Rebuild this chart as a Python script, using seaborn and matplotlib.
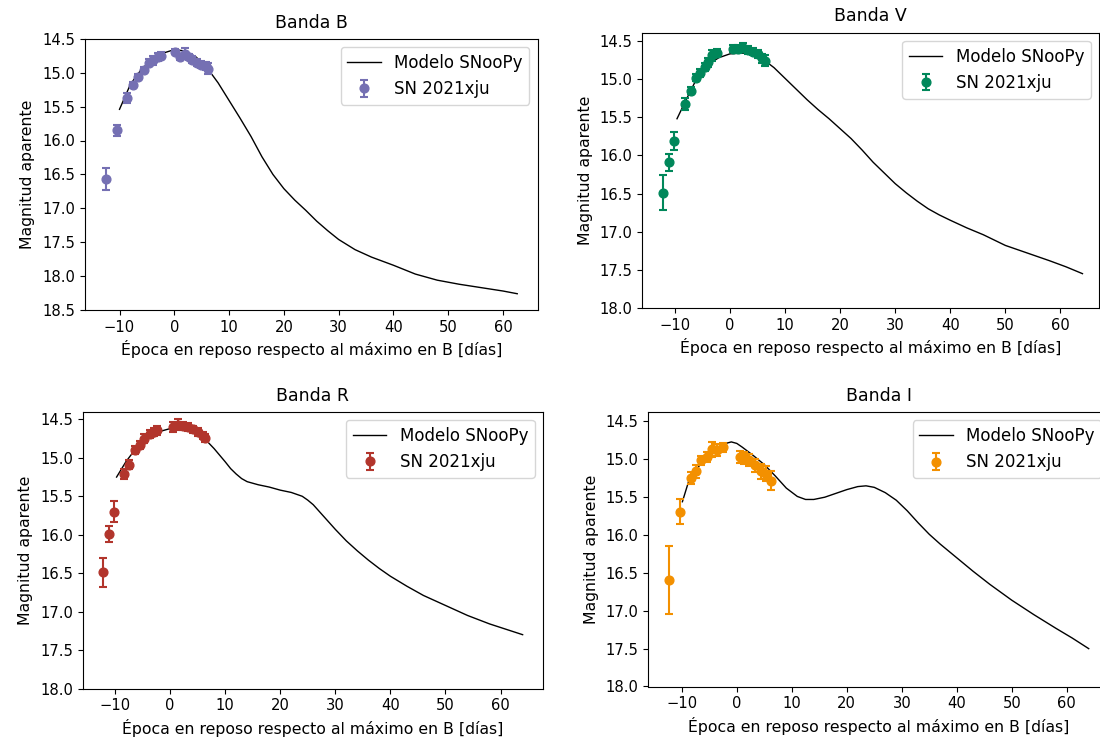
import matplotlib
matplotlib.use("Agg")
import matplotlib.pyplot as plt
import seaborn as sns
import numpy as np

# ---------------- data ----------------
# Banda B
b_days = [-12.4, -10.5, -8.6, -7.6, -6.6, -5.6, -4.7, -3.8, -2.9, -2.4, 0.2, 1.1, 1.9, 2.6, 3.3, 4.1, 4.9, 5.7, 6.1]
b_mags = [16.57, 15.85, 15.37, 15.18, 15.06, 14.96, 14.85, 14.82, 14.77, 14.75, 14.69, 14.77, 14.72, 14.77, 14.81, 14.85, 14.88, 14.90, 14.94]
b_errs = [0.16, 0.08, 0.07, 0.05, 0.04, 0.04, 0.05, 0.07, 0.06, 0.05, 0.04, 0.05, 0.08, 0.05, 0.05, 0.05, 0.05, 0.06, 0.08]
b_model_days = [-10, -8, -6, -4, -2, 0, 2, 4, 6, 8, 10, 12, 14, 16, 18, 20, 22, 24, 26, 28, 30, 33, 36, 40, 44, 48, 52, 56, 60, 62.6]
b_model_mags = [15.54, 15.17, 14.95, 14.80, 14.71, 14.66, 14.68, 14.77, 14.93, 15.15, 15.41, 15.67, 15.94, 16.24, 16.50, 16.71, 16.88, 17.03, 17.19, 17.33, 17.46, 17.61, 17.72, 17.84, 17.97, 18.06, 18.12, 18.17, 18.22, 18.26]

# Banda V
v_days = [-12.1, -11.1, -10.1, -8.2, -7.1, -6.2, -5.4, -4.5, -3.9, -3.3, -2.4, 0.6, 1.5, 2.4, 3.3, 4.2, 5.1, 5.9, 6.4]
v_mags = [16.49, 16.09, 15.81, 15.33, 15.15, 14.98, 14.92, 14.84, 14.78, 14.69, 14.66, 14.60, 14.61, 14.59, 14.62, 14.64, 14.67, 14.73, 14.76]
v_errs = [0.23, 0.11, 0.12, 0.08, 0.05, 0.05, 0.05, 0.05, 0.06, 0.07, 0.05, 0.05, 0.05, 0.06, 0.05, 0.05, 0.05, 0.06, 0.07]
v_model_days = [-9.6, -8, -6, -4, -2, 0, 2, 4, 6, 8, 10, 12, 14, 16, 18, 20, 22, 24, 26, 28, 30, 32, 34, 36, 38, 40, 43, 46, 50, 54, 58, 61, 64]
v_model_mags = [15.52, 15.28, 14.99, 14.81, 14.72, 14.67, 14.66, 14.67, 14.74, 14.85, 14.99, 15.13, 15.27, 15.40, 15.52, 15.65, 15.78, 15.93, 16.09, 16.23, 16.37, 16.49, 16.60, 16.70, 16.78, 16.85, 16.95, 17.04, 17.18, 17.28, 17.38, 17.46, 17.55]

# Banda R
r_days = [-12.2, -11.1, -10.2, -8.3, -7.4, -6.4, -5.4, -4.7, -3.6, -2.9, -2.4, 0.6, 1.5, 2.4, 3.3, 4.2, 5.1, 5.9, 6.4]
r_mags = [16.49, 15.99, 15.70, 15.21, 15.09, 14.90, 14.83, 14.75, 14.69, 14.66, 14.64, 14.60, 14.57, 14.59, 14.60, 14.63, 14.66, 14.71, 14.74]
r_errs = [0.19, 0.105, 0.14, 0.07, 0.06, 0.05, 0.05, 0.06, 0.05, 0.05, 0.06, 0.06, 0.07, 0.05, 0.05, 0.05, 0.05, 0.05, 0.05]
r_model_days = [-9.7, -8, -6, -4, -2, 0, 2, 4, 6, 8, 10, 11, 12, 13, 14, 15, 16, 18, 20, 22, 24, 25, 26, 28, 30, 32, 34, 36, 38, 40, 43, 46, 50, 54, 58, 61, 64]
r_model_mags = [15.25, 15.05, 14.86, 14.74, 14.66, 14.62, 14.62, 14.66, 14.73, 14.88, 15.05, 15.14, 15.21, 15.27, 15.31, 15.33, 15.35, 15.38, 15.42, 15.45, 15.50, 15.55, 15.61, 15.77, 15.93, 16.08, 16.21, 16.33, 16.44, 16.54, 16.67, 16.79, 16.92, 17.05, 17.16, 17.23, 17.30]

# Banda I
i_days = [-12.3, -10.4, -8.4, -7.5, -6.5, -5.5, -4.5, -3.6, -2.6, 0.5, 1.3, 2.2, 3.3, 4.4, 5.3, 6.2]
i_mags = [16.59, 15.69, 15.25, 15.16, 15.01, 14.97, 14.87, 14.88, 14.84, 14.97, 14.98, 15.01, 15.08, 15.16, 15.19, 15.28]
i_errs = [0.45, 0.17, 0.08, 0.09, 0.06, 0.07, 0.10, 0.08, 0.06, 0.08, 0.08, 0.08, 0.09, 0.10, 0.10, 0.12]
i_model_days = [-9.9, -8.8, -7, -5, -3, -2, -1, 0, 1, 3, 5, 7, 9, 11, 12.5, 14, 16, 18, 20, 22, 23.5, 25, 27, 29, 31, 33, 35, 37, 40, 43, 46, 50, 54, 58, 61, 64]
i_model_mags = [15.56, 15.30, 15.10, 14.94, 14.83, 14.79, 14.77, 14.79, 14.84, 14.95, 15.07, 15.22, 15.38, 15.49, 15.53, 15.53, 15.50, 15.45, 15.40, 15.36, 15.35, 15.37, 15.44, 15.54, 15.68, 15.84, 15.99, 16.12, 16.30, 16.48, 16.65, 16.86, 17.05, 17.23, 17.36, 17.50]

band_names = ["Banda B", "Banda V", "Banda R", "Banda I"]
band_colors = ["#7570b3", "#00875a", "#b2352c", "#f39000"]

# ---------------- layout ----------------
W, H = 1100, 740
fig = plt.figure(figsize=(W / 100, H / 100), dpi=100)

def px_axes(x0, x1, y0, y1):
    return fig.add_axes([x0 / W, 1 - y1 / H, (x1 - x0) / W, (y1 - y0) / H])

panels = [
    dict(box=(85, 537.5, 38.8, 310), xlim=(-16.3, 66.3), ylim=(18.5, 14.5),
         days=b_days, mags=b_mags, errs=b_errs, md=b_model_days, mm=b_model_mags),
    dict(box=(642.3, 1099, 32.5, 308), xlim=(-15.9, 67.0), ylim=(18.0, 14.39),
         days=v_days, mags=v_mags, errs=v_errs, md=v_model_days, mm=v_model_mags),
    dict(box=(82.7, 543, 411.7, 688.5), xlim=(-15.85, 67.7), ylim=(18.0, 14.4),
         days=r_days, mags=r_mags, errs=r_errs, md=r_model_days, mm=r_model_mags),
    dict(box=(648.3, 1109.6, 412.0, 686.5), xlim=(-16.1, 67.8), ylim=(18.0, 14.375),
         days=i_days, mags=i_mags, errs=i_errs, md=i_model_days, mm=i_model_mags),
]

for p, name, col in zip(panels, band_names, band_colors):
    ax = px_axes(*p["box"])
    sns.lineplot(x=p["md"], y=p["mm"], ax=ax, color="black", linewidth=1.0,
                 label="Modelo SNooPy", sort=False)
    ax.errorbar(p["days"], p["mags"], yerr=p["errs"], fmt="o", color=col,
                markersize=6.3, capsize=2.6, elinewidth=1.5, capthick=1.5,
                label="SN 2021xju")
    ax.set_xlim(*p["xlim"])
    ax.set_ylim(*p["ylim"])
    ax.set_title(name, fontsize=12.5, pad=8)
    ax.set_xlabel("Época en reposo respecto al máximo en B [días]", fontsize=11.3)
    ax.set_ylabel("Magnitud aparente", fontsize=11.3, labelpad=5)
    ax.tick_params(labelsize=10.6)
    ax.legend(loc="upper right", fontsize=12)

fig.savefig("out.png", dpi=100)
